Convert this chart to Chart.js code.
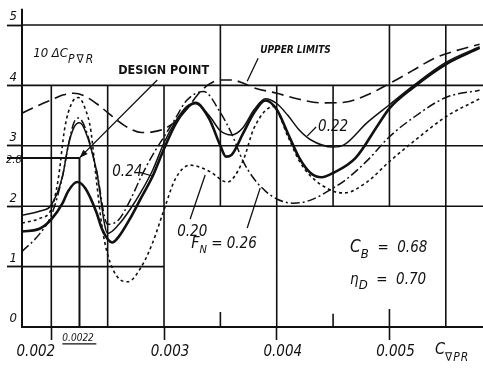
<!DOCTYPE html>
<html>
<head>
<meta charset="utf-8">
<title>Design point chart</title>
<script src="https://cdn.jsdelivr.net/npm/chart.js"></script>
<style>
  html, body { margin: 0; padding: 0; background: #fff; }
  #wrap { width: 483px; height: 368px; }
</style>
</head>
<body>
<div id="wrap"><canvas id="myChart"></canvas></div>
<script>
// axis ticks
const xTicks = [0.002, 0.003, 0.004, 0.005];
const yTicks = [0, 1, 2, 3, 4, 5];
const xMin = 0.00174, xMax = 0.00583;

// upper limits (long dashes)
const upperX = [0.00174, 0.0019, 0.002, 0.0021, 0.0022, 0.0023, 0.0024, 0.0025, 0.0026, 0.0027, 0.0028, 0.0029, 0.003, 0.0031, 0.0032, 0.0033, 0.0034, 0.0035, 0.0036, 0.0037, 0.0038, 0.004, 0.0042, 0.0044, 0.0046, 0.0048, 0.005, 0.0052, 0.0054, 0.0056, 0.0058];
const upperY = [3.54, 3.68, 3.76, 3.84, 3.87, 3.82, 3.70, 3.55, 3.40, 3.28, 3.22, 3.23, 3.28, 3.40, 3.60, 3.85, 4.02, 4.09, 4.09, 4.04, 3.96, 3.87, 3.77, 3.71, 3.72, 3.84, 4.03, 4.24, 4.45, 4.58, 4.68];

// F_N = 0.20 (dotted)
const fn20X = [0.00174, 0.0019, 0.002, 0.00206, 0.00212, 0.00218, 0.00224, 0.0023, 0.00235, 0.0024, 0.00245, 0.0025, 0.0026, 0.00268, 0.0028, 0.0029, 0.003, 0.0031, 0.00323, 0.0034, 0.00356, 0.0037, 0.0038, 0.00397, 0.0041, 0.0042, 0.0043, 0.0045, 0.0046, 0.0048, 0.005, 0.0052, 0.0055, 0.0058];
const fn20Y = [1.72, 1.80, 1.95, 2.43, 3.30, 3.70, 3.80, 3.62, 3.26, 2.43, 1.66, 1.20, 0.80, 0.75, 1.00, 1.40, 1.94, 2.45, 2.68, 2.58, 2.40, 2.75, 3.30, 3.65, 3.15, 2.75, 2.50, 2.25, 2.22, 2.40, 2.74, 3.05, 3.48, 3.78];

// F_N = 0.22 (thin solid)
const fn22X = [0.00174, 0.0019, 0.002, 0.0021, 0.00215, 0.0022, 0.00225, 0.0023, 0.0024, 0.0025, 0.0026, 0.0027, 0.0028, 0.0029, 0.003, 0.0031, 0.0032, 0.00328, 0.0034, 0.0035, 0.0036, 0.0037, 0.0038, 0.0039, 0.004, 0.0041, 0.0042, 0.0043, 0.0045, 0.0046, 0.0048, 0.005, 0.0052, 0.0055, 0.0058];
const fn22Y = [1.85, 1.92, 2.02, 2.50, 3.00, 3.30, 3.38, 3.25, 2.60, 1.55, 1.70, 1.95, 2.25, 2.60, 3.05, 3.40, 3.65, 3.70, 3.50, 3.25, 3.18, 3.30, 3.60, 3.78, 3.70, 3.50, 3.26, 3.10, 2.98, 3.02, 3.38, 3.68, 3.98, 4.38, 4.64];

// F_N = 0.24 (thick solid)
const fn24X = [0.00174, 0.0019, 0.002, 0.0021, 0.00215, 0.00223, 0.0023, 0.0024, 0.00245, 0.00254, 0.0026, 0.0027, 0.0028, 0.0029, 0.003, 0.0031, 0.0032, 0.00328, 0.0034, 0.0035, 0.00355, 0.0036, 0.0037, 0.0038, 0.0039, 0.004, 0.0041, 0.0042, 0.0043, 0.0044, 0.0045, 0.0047, 0.0049, 0.005, 0.0052, 0.0055, 0.0058];
const fn24Y = [1.58, 1.63, 1.78, 2.05, 2.25, 2.40, 2.30, 1.90, 1.62, 1.40, 1.50, 1.80, 2.15, 2.50, 2.95, 3.35, 3.62, 3.71, 3.45, 3.00, 2.82, 2.85, 3.20, 3.55, 3.75, 3.60, 3.20, 2.80, 2.55, 2.48, 2.55, 2.80, 3.35, 3.62, 3.95, 4.35, 4.62];

// F_N = 0.26 (dash-dot)
const fn26X = [0.00174, 0.0019, 0.002, 0.0021, 0.00215, 0.0022, 0.00224, 0.0023, 0.0024, 0.0025, 0.0026, 0.0027, 0.0028, 0.0029, 0.003, 0.0031, 0.0032, 0.00335, 0.0035, 0.0036, 0.0037, 0.0038, 0.0039, 0.004, 0.00415, 0.0043, 0.0045, 0.0046, 0.0048, 0.005, 0.0052, 0.0055, 0.0058];
const fn26Y = [1.25, 1.55, 1.85, 2.50, 3.00, 3.38, 3.46, 3.30, 2.60, 1.70, 1.78, 2.10, 2.50, 2.85, 3.15, 3.45, 3.75, 3.90, 3.55, 3.20, 2.75, 2.45, 2.25, 2.12, 2.05, 2.10, 2.30, 2.42, 2.75, 3.15, 3.45, 3.80, 3.92];

// design point
const designX = 0.00225, designY = 2.8;

// grid pieces of the printed chart: [x, yFrom, yTo] and [y, xFrom, xTo]
const gridV = [[0.002, 0, 4], [0.0025, 0, 4], [0.003, 0, 4], [0.0035, 2, 5], [0.0035, 0, 0.25],
               [0.004, 0, 4], [0.0045, 2, 4], [0.0045, 0, 0.22], [0.005, 2, 5], [0.005, 0, 0.3], [0.0055, 0, 5]];
const gridH = [[5, xMin, xMax], [4, xMin, xMax], [3, xMin, xMax], [2, xMin, xMax], [1, xMin, 0.003]];

const FONT = "'DejaVu Sans Condensed', 'DejaVu Sans', sans-serif";
const INK = '#111';

function pts(xs, ys) { return xs.map((v, i) => ({x: v, y: ys[i]})); }

function drawParts(ctx, x, y, parts) {
    // parts: [text, font, baseline shift, letter spacing]
    parts.forEach(([s, f, dy, ls]) => {
        ctx.font = f + ' ' + FONT;
        ctx.letterSpacing = (ls || 0) + 'px';
        ctx.fillText(s, x, y + dy);
        x += ctx.measureText(s).width;
    });
    ctx.letterSpacing = '0px';
}

const sketchPlugin = {
    id: 'sketch',
    beforeDatasetsDraw(chart) {
        const {ctx, scales: {x, y}} = chart;
        const px = v => x.getPixelForValue(v), py = v => y.getPixelForValue(v);
        ctx.save();
        ctx.strokeStyle = INK;
        ctx.lineWidth = 1.6;
        ctx.beginPath();
        gridV.forEach(([v, a, b]) => { ctx.moveTo(px(v), py(a)); ctx.lineTo(px(v), py(b)); });
        gridH.forEach(([v, a, b]) => { ctx.moveTo(px(a), py(v)); ctx.lineTo(px(b), py(v)); });
        ctx.stroke();
        ctx.lineWidth = 2;
        ctx.beginPath();
        ctx.moveTo(x.left - 15, py(designY)); ctx.lineTo(px(designX), py(designY));
        ctx.moveTo(px(designX), py(designY)); ctx.lineTo(px(designX), py(0));
        ctx.moveTo(x.left, py(5)); ctx.lineTo(x.left, py(5.27));
        ctx.stroke();
        ctx.restore();
    },
    afterDatasetsDraw(chart) {
        const {ctx, scales: {x, y}} = chart;
        const px = v => x.getPixelForValue(v), py = v => y.getPixelForValue(v);
        ctx.save();
        ctx.fillStyle = INK;
        ctx.strokeStyle = INK;
        ctx.lineWidth = 1.3;
        ctx.textBaseline = 'alphabetic';

        // leader lines
        const leaders = [
            [0.003835, 4.45, 0.003738, 4.07],
            [0.004349, 3.31, 0.00427, 3.16],
            [0.00278, 2.566, 0.002895, 2.5],
            [0.003232, 1.788, 0.003365, 2.517],
            [0.003738, 1.639, 0.003853, 2.30],
            [0.00294, 4.09, designX, designY]
        ];
        ctx.beginPath();
        leaders.forEach(([a, b, c, d]) => { ctx.moveTo(px(a), py(b)); ctx.lineTo(px(c), py(d)); });
        ctx.stroke();

        // arrow head at the design point
        const tx = px(designX), ty = py(designY);
        const ang = Math.atan2(ty - py(4.09), tx - px(0.00294));
        ctx.beginPath();
        ctx.moveTo(tx, ty);
        ctx.lineTo(tx - 9 * Math.cos(ang - 0.35), ty - 9 * Math.sin(ang - 0.35));
        ctx.lineTo(tx - 9 * Math.cos(ang + 0.35), ty - 9 * Math.sin(ang + 0.35));
        ctx.closePath();
        ctx.fill();

        drawParts(ctx, px(0.00184), py(4.47), [['10 ΔC', 'italic 13px', 0], ['P∇R', 'italic 12px', 6, 2]]);
        drawParts(ctx, px(0.002594), py(4.19), [['DESIGN POINT', 'bold 12.5px', 0]]);
        drawParts(ctx, px(0.003853), py(4.54), [['UPPER LIMITS', 'italic bold 10px', 0]]);
        drawParts(ctx, px(0.004367), py(3.245), [['0.22', 'italic 15px', 0]]);
        drawParts(ctx, px(0.002541), py(2.5), [['0.24', 'italic 15px', 0]]);
        drawParts(ctx, px(0.003117), py(1.507), [['0.20', 'italic 15px', 0]]);
        drawParts(ctx, px(0.003241), py(1.308), [['F', 'italic 16px', 0], ['N', 'italic 11px', 5], [' = 0.26', 'italic 15px', 0]]);
        drawParts(ctx, px(0.004651), py(1.242), [['C', 'italic 17px', 0], ['B', 'italic 13px', 6], ['  =  0.68', 'italic 15px', 0]]);
        drawParts(ctx, px(0.004651), py(0.712), [['η', 'italic 15px', 0], ['D', 'italic 13px', 5], ['  =  0.70', 'italic 15px', 0]]);
        drawParts(ctx, px(0.005404), py(-0.447), [['C', 'italic 16px', 0], ['∇PR', 'italic 12px', 7, 1]]);
        drawParts(ctx, px(0.002098), py(-0.232), [['0.0022', 'italic 10px', 0]]);
        drawParts(ctx, x.left - 16, py(2.715), [['2.8', 'italic 11px', 0]]);

        // underline of 0.0022
        ctx.lineWidth = 1.2;
        ctx.beginPath();
        ctx.moveTo(px(0.002098), py(-0.28)); ctx.lineTo(px(0.002098) + 34, py(-0.28));
        ctx.stroke();
        ctx.restore();
    }
};

function lineSet(label, xs, ys, width, dash) {
    return {
        label: label,
        data: pts(xs, ys),
        borderColor: INK,
        borderWidth: width,
        borderDash: dash,
        pointRadius: 0,
        fill: false,
        cubicInterpolationMode: 'monotone'
    };
}

const ctx = document.getElementById('myChart').getContext('2d');
new Chart(ctx, {
    type: 'line',
    data: {
        datasets: [
            lineSet('Upper limits', upperX, upperY, 1.6, [12, 6]),
            lineSet('F_N 0.20', fn20X, fn20Y, 1.6, [3, 3]),
            lineSet('F_N 0.22', fn22X, fn22Y, 1.5, []),
            lineSet('F_N 0.24', fn24X, fn24Y, 2.6, []),
            lineSet('F_N 0.26', fn26X, fn26Y, 1.5, [9, 3, 2, 3])
        ]
    },
    plugins: [sketchPlugin],
    options: {
        responsive: true,
        maintainAspectRatio: false,
        animation: false,
        layout: { padding: { top: 25, right: 0, bottom: 0, left: 0 } },
        plugins: { legend: { display: false }, tooltip: { enabled: false } },
        scales: {
            x: {
                type: 'linear',
                min: xMin,
                max: xMax,
                afterBuildTicks: s => { s.ticks = xTicks.map(v => ({value: v})); },
                afterFit: s => { s.height = 41; },
                border: { display: true, color: INK, width: 2 },
                grid: { drawOnChartArea: false, drawTicks: true, tickLength: 13, tickWidth: 1.6, tickColor: INK },
                ticks: {
                    color: INK,
                    padding: 3,
                    labelOffset: 6,
                    maxRotation: 0,
                    autoSkip: false,
                    font: { family: FONT, size: 15, style: 'italic' },
                    callback: v => Math.abs(v - 0.002) < 1e-9 ? '0.002\u2007\u2007\u2007\u2007\u2007' : v.toFixed(3)
                }
            },
            y: {
                min: 0,
                max: 5,
                afterBuildTicks: s => { s.ticks = yTicks.map(v => ({value: v})); },
                afterFit: s => { s.width = 22; },
                border: { display: true, color: INK, width: 2 },
                grid: {
                    drawOnChartArea: false, drawTicks: true, tickLength: 15, tickWidth: 1.8,
                    tickColor: c => c.tick && c.tick.value === 0 ? 'rgba(0,0,0,0)' : INK
                },
                ticks: {
                    color: INK,
                    padding: -10,
                    labelOffset: -8,
                    autoSkip: false,
                    font: { family: FONT, size: 13, style: 'italic' },
                    callback: v => String(v)
                }
            }
        }
    }
});
</script>
</body>
</html>
